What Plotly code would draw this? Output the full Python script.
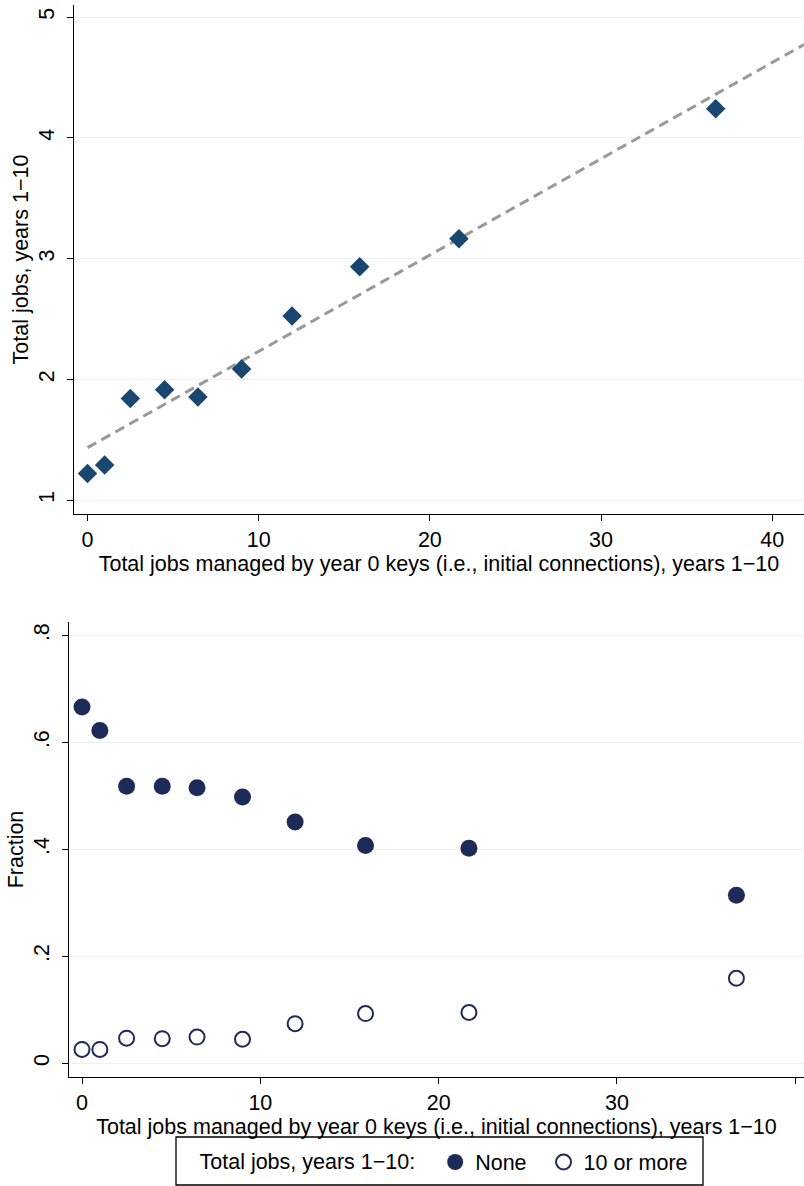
import plotly.graph_objects as go
import numpy as np

# ---- data ----
x_bins = [0, 1, 2.5, 4.5, 6.45, 9, 11.95, 15.9, 21.7, 36.7]
total_jobs = [1.222, 1.293, 1.844, 1.916, 1.856, 2.087, 2.526, 2.933, 3.165, 4.242]
fit_intercept = 1.436
fit_slope = 0.0797
frac_none = [0.666, 0.622, 0.518, 0.518, 0.515, 0.498, 0.451, 0.407, 0.402, 0.314]
frac_10plus = [0.026, 0.026, 0.047, 0.046, 0.049, 0.045, 0.074, 0.093, 0.095, 0.159]

top_yticks = [1, 2, 3, 4, 5]
bot_yticks = [0, 0.2, 0.4, 0.6, 0.8]
bot_yticklabels = ["0", ".2", ".4", ".6", ".8"]
xticks = [0, 10, 20, 30, 40]

x_title = "Total jobs managed by year 0 keys (i.e., initial connections), years 1\u221210"
top_y_title = "Total jobs, years 1\u221210"
bot_y_title = "Fraction"
legend_title = "Total jobs, years 1\u221210:\u00a0\u00a0"
series_names = ["None\u00a0\u00a0", "10 or more"]

W, H = 804, 1186


def px(x):
    return x / W


def py(y):
    return 1 - y / H


FONT = "Liberation Sans, Arial, Helvetica, sans-serif"
FS = 21.5
NAVY = "#1a476f"
DARK = "#1c2b57"
GRID = "#eaf2f3"

top_xrange = [-0.79, 41.86]
top_yrange = [0.887, 5.10]
bot_xrange = [-0.73, 40.49]
bot_yrange = [-0.0256, 0.825]

fig = go.Figure()

fit_x = np.array([0, top_xrange[1]])
fig.add_trace(go.Scatter(
    x=fit_x, y=fit_intercept + fit_slope * fit_x, mode="lines",
    line=dict(color="#999999", width=3, dash="10px,6px"),
    showlegend=False, xaxis="x", yaxis="y", hoverinfo="skip"))
fig.add_trace(go.Scatter(
    x=x_bins, y=total_jobs, mode="markers",
    marker=dict(symbol="diamond", size=15, color=NAVY, line=dict(width=0)),
    showlegend=False, xaxis="x", yaxis="y"))

fig.add_trace(go.Scatter(
    x=x_bins, y=frac_none, mode="markers", name=series_names[0],
    marker=dict(symbol="circle", size=17, color=DARK, line=dict(width=0)),
    xaxis="x2", yaxis="y2"))
fig.add_trace(go.Scatter(
    x=x_bins, y=frac_10plus, mode="markers", name=series_names[1],
    marker=dict(symbol="circle-open", size=15, color=DARK, line=dict(width=2, color=DARK)),
    xaxis="x2", yaxis="y2"))

axis_common = dict(
    showline=True, linecolor="#000000", linewidth=1.3,
    ticks="outside", ticklen=6, tickcolor="#000000", tickwidth=1.3,
    tickfont=dict(family=FONT, size=FS, color="#000000"),
    zeroline=False, automargin=False,
)

fig.update_layout(
    width=W, height=H,
    margin=dict(l=0, r=0, t=0, b=0),
    paper_bgcolor="white", plot_bgcolor="white",
    font=dict(family=FONT, size=FS, color="#000000"),
    xaxis=dict(domain=[px(74), 1], range=top_xrange, tickvals=xticks,
               showgrid=False, anchor="y",
               title=dict(text=x_title, font=dict(size=FS), standoff=0),
               **axis_common),
    yaxis=dict(domain=[py(514), py(5)], range=top_yrange, tickvals=top_yticks,
               tickangle=-90, showgrid=True, gridcolor=GRID, gridwidth=1.3,
               anchor="x", ticklabelstandoff=4,
               title=dict(text=top_y_title, font=dict(size=FS), standoff=0),
               **axis_common),
    xaxis2=dict(domain=[px(69), 1], range=bot_xrange, tickvals=xticks,
                showgrid=False, anchor="y2",
                title=dict(text=x_title, font=dict(size=FS), standoff=0),
                **axis_common),
    yaxis2=dict(domain=[py(1077), py(622)], range=bot_yrange, tickvals=bot_yticks,
                ticktext=bot_yticklabels, tickangle=-90, showgrid=True,
                gridcolor=GRID, gridwidth=1.3, anchor="x2", ticklabelstandoff=4,
                title=dict(text=bot_y_title, font=dict(size=FS), standoff=0),
                **axis_common),
    legend=dict(
        orientation="h", x=px(445), xanchor="center",
        y=py(1162), yanchor="middle",
        title=dict(text=legend_title, side="left", font=dict(size=FS)),
        font=dict(family=FONT, size=FS, color="#000000"),
        bgcolor="rgba(0,0,0,0)", borderwidth=0,
        itemwidth=30, tracegroupgap=0,
    ),
    shapes=[dict(type="rect", xref="paper", yref="paper",
                 x0=px(176), x1=px(703), y0=py(1185), y1=py(1137),
                 line=dict(color="#000000", width=1.3), fillcolor="rgba(0,0,0,0)")],
)

fig.write_html(
    "out.html",
    config=dict(displayModeBar=False),
    post_script="document.body.style.margin='0';"
                "document.documentElement.style.overflow='hidden';",
)
